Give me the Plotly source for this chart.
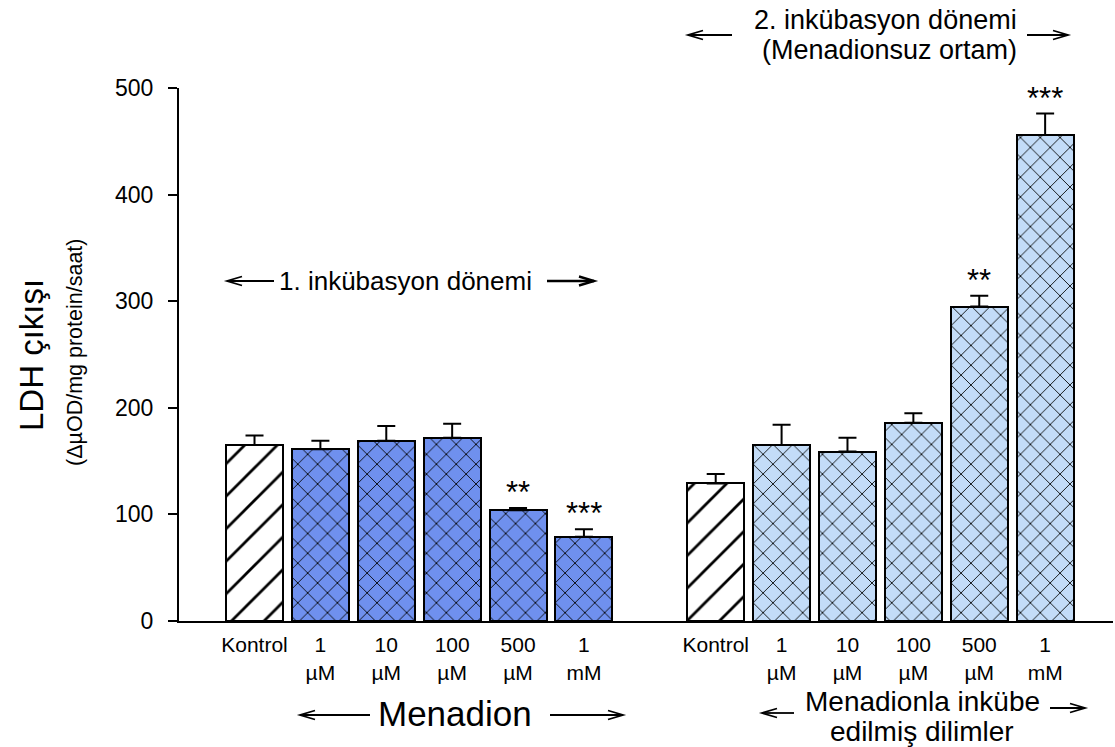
import plotly.graph_objects as go

# ---- data -------------------------------------------------------------
tick_text_1 = ["Kontrol", "1<br>µM", "10<br>µM", "100<br>µM", "500<br>µM", "1<br>mM"]
tick_text_2 = ["Kontrol", "1<br>µM", "10<br>µM", "100<br>µM", "500<br>µM", "1<br>mM"]

# first incubation period (menadione present)
ldh_1 = [165, 161, 169, 172, 104, 79]
sem_1 = [9, 8, 14, 13, 2, 7]
stars_1 = ["", "", "", "", "**", "***"]

# second incubation period (menadione-free medium)
ldh_2 = [129, 165, 159, 186, 295, 456]
sem_2 = [9, 19, 13, 9, 10, 20]
stars_2 = ["", "", "", "", "**", "***"]

pos_1 = list(range(0, 6))
pos_2 = list(range(7, 13))

# ---- layout geometry --------------------------------------------------
W, H = 1115, 747
ML, MR, MT, MB = 179, 2, 88, 126
PW, PH = W - ML - MR, H - MT - MB

FONT = "Liberation Sans, Arial, sans-serif"
BLUE = "#6f90ee"
LIGHT = "#c3dcf8"


def px(x):
    return (x - ML) / PW


def py(y):
    return (H - MB - y) / PH


def bar_trace(x, y, err, fill, shape, size):
    return go.Bar(
        x=x, y=y, width=0.865,
        marker=dict(
            color=fill,
            line=dict(color="black", width=2),
            pattern=dict(shape=shape, fgcolor="black", bgcolor=fill,
                         size=size, solidity=0.12, fillmode="replace"),
        ),
        error_y=dict(type="data", array=err, arrayminus=[0] * len(err),
                     symmetric=False, color="black", thickness=2, width=9),
        showlegend=False,
    )


fig = go.Figure()
fig.add_trace(bar_trace(pos_1[:1], ldh_1[:1], sem_1[:1], "white", "/", 23))
fig.add_trace(bar_trace(pos_1[1:], ldh_1[1:], sem_1[1:], BLUE, "x", 14))
fig.add_trace(bar_trace(pos_2[:1], ldh_2[:1], sem_2[:1], "white", "/", 23))
fig.add_trace(bar_trace(pos_2[1:], ldh_2[1:], sem_2[1:], LIGHT, "x", 14))

annotations = []

# significance marks above the error bars
for xs, ys, es, ss in ((pos_1, ldh_1, sem_1, stars_1), (pos_2, ldh_2, sem_2, stars_2)):
    for x, y, e, s in zip(xs, ys, es, ss):
        if s:
            annotations.append(dict(x=x, y=y + e, xref="x", yref="y", text=s,
                                    showarrow=False, yanchor="bottom", yshift=-4,
                                    font=dict(size=31, color="black", family=FONT)))


def label(text, x, y, size, angle=0):
    annotations.append(dict(x=px(x), y=py(y), xref="paper", yref="paper", text=text,
                            showarrow=False, xanchor="center", yanchor="middle",
                            textangle=angle,
                            font=dict(size=size, color="black", family=FONT)))


label("1. inkübasyon dönemi", 405, 281, 26)
label("2. inkübasyon dönemi", 885, 20, 27)
label("(Menadionsuz ortam)", 889, 50, 27)
label("Menadion", 455, 713, 35)
label("Menadionla inkübe", 922, 701, 28)
label("edilmiş dilimler", 922, 731, 28)
label("LDH çıkışı", 31, 355, 33, -90)
label("(ΔµOD/mg protein/saat)", 75, 353, 21.5, -90)

shapes = []


def arrow(tail, tip, y, head=15, half=4.5, width=1.8):
    d = 1 if tip > tail else -1
    shapes.append(dict(type="line", xref="paper", yref="paper",
                       x0=px(tail), x1=px(tip), y0=py(y), y1=py(y),
                       line=dict(color="black", width=width)))
    path = "M {a},{b} L {c},{d} L {e},{f}".format(
        a=px(tip - d * head), b=py(y - half), c=px(tip), d=py(y),
        e=px(tip - d * head), f=py(y + half))
    shapes.append(dict(type="path", xref="paper", yref="paper", path=path,
                       line=dict(color="black", width=width)))


arrow(274, 227, 281)
arrow(547, 594, 281, width=2.4)
arrow(732, 688, 35)
arrow(1027, 1068, 35)
arrow(370, 300, 715)
arrow(550, 623, 715)
arrow(794, 762, 713)
arrow(1050, 1085, 708)

# x axis line continues under the y tick marks
shapes.append(dict(type="line", xref="paper", yref="paper",
                   x0=px(170), x1=px(ML), y0=0, y1=0,
                   line=dict(color="black", width=2)))

fig.update_layout(
    width=W, height=H,
    margin=dict(l=ML, r=MR, t=MT, b=MB, pad=0),
    paper_bgcolor="white", plot_bgcolor="white",
    bargap=0, barmode="overlay",
    font=dict(family=FONT, color="black"),
    annotations=annotations, shapes=shapes,
    xaxis=dict(range=[-1.146, 13.03], tickvals=pos_1 + pos_2,
               ticktext=tick_text_1 + tick_text_2,
               showline=True, linecolor="black", linewidth=2,
               ticks="", showgrid=False, zeroline=False,
               ticklabelstandoff=4,
               tickfont=dict(size=21, family=FONT), tickangle=0),
    yaxis=dict(range=[0, 500], tickvals=[0, 100, 200, 300, 400, 500],
               showline=True, linecolor="black", linewidth=2,
               ticks="outside", ticklen=9, tickwidth=2, tickcolor="black",
               showgrid=False, zeroline=False, ticklabelstandoff=10,
               tickfont=dict(size=23, family=FONT)),
)

fig.write_html("out.html")
